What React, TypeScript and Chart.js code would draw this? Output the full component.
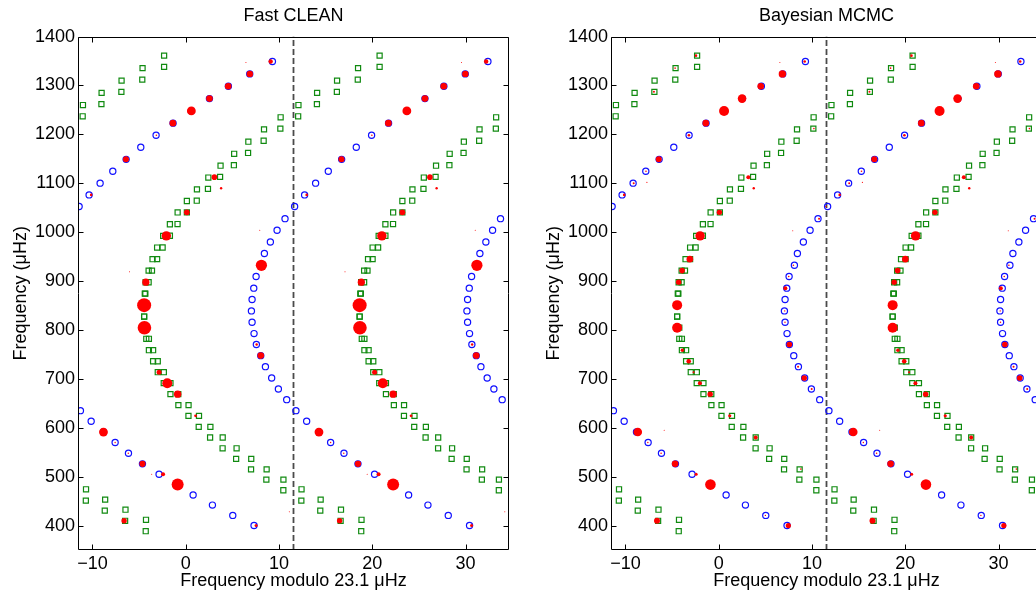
import React, { useEffect, useRef } from "react";
import { Chart, registerables } from "chart.js";

Chart.register(...registerables);

const FONT = "'Liberation Sans', Arial, Helvetica, sans-serif";
const PERIOD = 23.1;
const X_MIN = -11.55;
const X_MAX = 34.65;
const Y_MIN = 350;
const Y_MAX = 1400;
const DASH_X = 11.55;

const xTicks = [-10, 0, 10, 20, 30];
const yTicks = [400, 500, 600, 700, 800, 900, 1000, 1100, 1200, 1300, 1400];

// model radial-like ridge (blue open circles)
const radialX = [7.32, 5.04, 2.86, 0.79, -1.0, -2.86, -4.64, -6.14, -7.57, -8.82, -10.14, -11.29, 10.82, 9.93, 9.21, 8.54, 8.04, 7.57, 7.32, 7.11, 7.04, 7.11, 7.29, 7.54, 8.11, 8.43, 9.07, 9.79, 10.64, -11.43, -10.36, -9.18, -7.82, -6.39, -4.82, -3.18, -1.36, 0.6, 2.54, 4.57, 6.86, 9.29];
const radialY = [400, 420.8, 441.8, 462.6, 483.8, 505, 526.2, 548, 569.8, 591.2, 613.2, 635, 657.5, 679.3, 701.8, 725, 747.5, 770.2, 792.6, 815.8, 839, 862.2, 885.5, 909.5, 932.3, 956.5, 980, 1003.8, 1027.7, 1052.5, 1076.2, 1100.3, 1124.5, 1149, 1173.8, 1198.3, 1223, 1248, 1273.2, 1298.6, 1323.7, 1349];

// model mixed-mode ridge (green open squares)
const dipoleX = [
  -2.32, -2.32, -4.63, -4.66, -6.88, -6.9, -9.02, -9.04, -11.02, -11.05,
  10.17, 10.14, 8.39, 8.35, 6.71, 6.68, 5.19, 5.16, 3.73, 3.68,
  2.42, 2.38, 1.2, 1.18, 0.12, 0.12, -0.87, -0.88, -1.7, -1.7,
  -2.42, -2.48, -3.07, -3.07, -3.56, -3.62, -3.98, -3.98, -4.3, -4.33,
  -4.39, -4.42, -4.46, -4.46, -4.46, -4.4, -4.23, -4.23, -3.95, -3.95,
  -3.5, -3.5, -3.0, -3.0, -2.35, -2.36, -1.64, -1.64, -0.8, -0.79,
  0.3, 0.29, 1.42, 1.39, 2.64, 2.61, 3.96, 3.95, 5.45, 5.4,
  7.02, 7.0, 8.67, 8.64, 10.47, 10.46,
  -10.69, -10.71, -8.64, -8.68, -6.46, -6.5, -4.26, -4.29,
];
const dipoleY = [
  1361, 1338, 1335.5, 1312, 1310, 1287, 1285, 1262, 1260, 1237,
  1235, 1211.8, 1210.3, 1187, 1185, 1162, 1160.3, 1137, 1136, 1113,
  1111.7, 1088.6, 1087.5, 1064.4, 1063.8, 1040.6, 1040.3, 1016.6, 1016.2, 992.7,
  992.5, 968.7, 968.6, 944.8, 944.7, 921.4, 921.4, 897.6, 897.6, 874.3,
  874.3, 851, 851, 827.5, 827.5, 805, 805, 782, 782, 758.6,
  758.6, 736, 736, 713.6, 713.6, 691.2, 691.2, 668.7, 668.7, 646.3,
  646.3, 624.3, 624.3, 601.8, 601.8, 580.1, 580.1, 558, 558, 536.4,
  536.4, 515, 515, 494, 494, 472.2,
  474.2, 451, 453, 430.5, 432.4, 409.7, 411.8, 388.4,
];

// observed peaks, Fast CLEAN (red dots, amplitude in arbitrary units)
const cleanX = [-10.14, -6.41, -3.15, -1.38, 0.6, 2.54, 4.55, 6.87, 9.1, 6.45, 3.07, 3.79, 0.12, -2.08, -6.03, -4.28, -4.46, -4.43, 8.11, 7.6, 8.04, -2.86, -1.98, -0.87, 1.05, -8.82, -7.57, -6.16, -4.64, -2.43, -3.65, -0.87, -6.61, 7.54, 11.1, 7.93];
const cleanY = [1076.2, 1149, 1198.3, 1223, 1248, 1273.2, 1298.6, 1323.7, 1349, 1347, 1112.5, 1090, 1040.6, 992.5, 919, 897.8, 850.8, 804.5, 932.3, 770.2, 747.6, 713.6, 691.2, 668.7, 624.5, 591.2, 569.8, 548, 526.2, 505, 505, 483.8, 409.7, 400, 428, 1004];
const cleanAmp = [1.3, 3.0, 0.8, 3.3, 4.4, 3.3, 3.3, 3.2, 2.2, 0.5, 2.8, 1.2, 2.9, 4.7, 0.5, 3.6, 7.0, 6.8, 5.6, 1.2, 3.3, 2.5, 5.0, 3.7, 1.4, 4.4, 0.7, 0.7, 3.1, 2.0, 0.5, 6.0, 2.7, 1.5, 0.5, 0.5];

// observed peaks, Bayesian MCMC
const mcmcX = [-10.14, -9.12, -7.7, -7.8, -6.43, -3.2, -1.39, 0.57, 2.5, 4.5, 6.82, 9.21, 6.55, -2.44, -4.68, -6.95, 10.2, 3.17, 3.75, 11.5, 0.07, -2.0, -3.1, -3.93, -4.3, -4.46, -4.46, -3.9, -3.22, -2.7, -2.02, -0.92, 1.18, 3.96, 8.8, -8.68, -5.85, -7.6, -6.18, -4.68, -2.42, -0.89, 5.0, 7.46, -6.62, 10.75, 7.93, 8.0, 7.5, 7.14, 7.07, 7.1, 7.57, 8.5, 9.16, 9.96];
const mcmcY = [1076.2, 1100.3, 1102, 1124.5, 1149, 1198.3, 1223, 1248, 1273.2, 1298.6, 1323.7, 1349, 1347, 1361, 1335.5, 1287, 1211.8, 1112.5, 1090, 1052.5, 1040.6, 992.5, 944.8, 921.4, 897.8, 850.8, 804.5, 758.6, 736, 713.6, 691.2, 668.7, 624.5, 580.3, 515.5, 591.2, 595, 569.8, 548, 526.2, 505, 483.8, 420.8, 400, 409.7, 1027.7, 1002.7, 932.3, 909.5, 885.5, 839, 815.8, 770.2, 725, 701.8, 679.3];
const mcmcAmp = [1.3, 1.0, 0.6, 0.8, 3.0, 1.3, 3.3, 5.0, 4.3, 3.3, 3.7, 1.3, 0.5, 1.3, 0.8, 1.0, 0.8, 2.0, 1.2, 0.8, 2.7, 4.7, 3.3, 2.8, 2.7, 5.0, 5.0, 1.7, 2.3, 1.0, 2.0, 2.7, 1.6, 2.0, 0.8, 4.3, 0.5, 0.7, 0.8, 3.3, 1.5, 5.3, 0.7, 2.6, 3.0, 1.0, 0.5, 0.8, 0.8, 2.0, 0.7, 0.7, 2.8, 1.0, 2.8, 1.0];

type Pt = { x: number; y: number; a: number };

function echelle(xs: number[], ys: number[], amps?: number[]): Pt[] {
  const out: Pt[] = [];
  xs.forEach((x, i) => {
    const a = amps ? amps[i] : 0;
    out.push({ x, y: ys[i], a });
    out.push({ x: x + PERIOD, y: ys[i], a });
  });
  return out;
}

const fmt = (v: number) => (v < 0 ? "\u2212" + Math.abs(v) : String(v));

const boxPlugin = {
  id: "boxTicks",
  afterDatasetsDraw(chart: any) {
    const { ctx, chartArea } = chart;
    const { left, right, top, bottom } = chartArea;
    const xs = chart.scales.x;
    const ys = chart.scales.y;
    const L = Math.round(left) + 0.5;
    const R = Math.round(right) - 0.5;
    const T = Math.round(top) + 0.5;
    const B = Math.round(bottom) - 0.5;
    const tl = 5;
    ctx.save();
    ctx.strokeStyle = "#000";
    ctx.lineWidth = 1;
    ctx.beginPath();
    ctx.rect(L, T, R - L, B - T);
    xTicks.forEach((v) => {
      const px = Math.round(xs.getPixelForValue(v)) + 0.5;
      ctx.moveTo(px, B);
      ctx.lineTo(px, B - tl);
      ctx.moveTo(px, T);
      ctx.lineTo(px, T + tl);
    });
    yTicks.forEach((v) => {
      const py = Math.round(ys.getPixelForValue(v)) + 0.5;
      ctx.moveTo(L, py);
      ctx.lineTo(L + tl, py);
      ctx.moveTo(R, py);
      ctx.lineTo(R - tl, py);
    });
    ctx.stroke();
    ctx.restore();
  },
};

const noPad = (s: any) => {
  s.paddingLeft = 0;
  s.paddingRight = 0;
  s.paddingTop = 0;
  s.paddingBottom = 0;
};

function makeConfig(title: string, rx: number[], ry: number[], ra: number[]): any {
  return {
    type: "scatter",
    data: {
      datasets: [
        {
          label: "observed",
          data: echelle(rx, ry, ra),
          pointStyle: "circle",
          pointRadius: (c: any) => (c.raw ? c.raw.a : 0),
          pointBackgroundColor: "#ff0000",
          pointBorderWidth: 0,
          order: 0,
        },
        {
          label: "mixed",
          data: echelle(dipoleX, dipoleY),
          pointStyle: "rect",
          pointRadius: 3.6,
          pointBorderColor: "#108a10",
          pointBackgroundColor: "rgba(0,0,0,0)",
          pointBorderWidth: 1.2,
          order: 1,
        },
        {
          label: "radial",
          data: echelle(radialX, radialY),
          pointStyle: "circle",
          pointRadius: 3.1,
          pointBorderColor: "#1010ff",
          pointBackgroundColor: "rgba(0,0,0,0)",
          pointBorderWidth: 1.2,
          order: 2,
        },
        {
          label: "half",
          data: [
            { x: DASH_X, y: Y_MIN },
            { x: DASH_X, y: Y_MAX },
          ],
          showLine: true,
          borderColor: "#4a4a4a",
          borderDash: [6, 3],
          borderWidth: 1.8,
          pointRadius: 0,
          order: 3,
        },
      ],
    },
    options: {
      animation: false,
      responsive: false,
      maintainAspectRatio: false,
      events: [],
      layout: { autoPadding: false, padding: { left: 0, right: 1, top: 0, bottom: 0 } },
      plugins: {
        legend: { display: false },
        tooltip: { enabled: false },
        title: { display: false },
      },
      scales: {
        x: {
          type: "linear",
          min: X_MIN,
          max: X_MAX,
          afterBuildTicks: (s: any) => {
            s.ticks = xTicks.map((v) => ({ value: v }));
          },
          afterFit: (s: any) => {
            s.height = 45;
            noPad(s);
          },
          grid: { display: false, drawTicks: false },
          border: { display: false },
          ticks: {
            color: "#000",
            padding: 3,
            maxRotation: 0,
            autoSkip: false,
            includeBounds: false,
            font: { size: 18, family: FONT },
            callback: (v: any) => fmt(Number(v)),
          },
          title: {
            display: true,
            text: "Frequency modulo 23.1 \u03bcHz",
            color: "#000",
            font: { size: 18, family: FONT },
            padding: { top: 0, bottom: 3 },
          },
        },
        top: {
          type: "linear",
          position: "top",
          min: X_MIN,
          max: X_MAX,
          afterBuildTicks: (s: any) => {
            s.ticks = [];
          },
          afterFit: (s: any) => {
            s.height = 36.6;
            noPad(s);
          },
          grid: { display: false, drawTicks: false },
          border: { display: false },
          ticks: { display: false },
          title: {
            display: true,
            text: title,
            color: "#000",
            font: { size: 18, family: FONT, weight: "normal" },
            padding: { top: 5, bottom: 0 },
          },
        },
        y: {
          type: "linear",
          min: Y_MIN,
          max: Y_MAX,
          afterBuildTicks: (s: any) => {
            s.ticks = yTicks.map((v) => ({ value: v }));
          },
          afterFit: (s: any) => {
            s.width = 78;
            noPad(s);
          },
          grid: { display: false, drawTicks: false },
          border: { display: false },
          ticks: {
            color: "#000",
            padding: 3,
            autoSkip: false,
            includeBounds: false,
            font: { size: 18, family: FONT },
            callback: (v: any) => fmt(Number(v)),
          },
          title: {
            display: true,
            text: "Frequency (\u03bcHz)",
            color: "#000",
            font: { size: 18, family: FONT },
            padding: { top: 10, bottom: 0 },
          },
        },
      },
    },
    plugins: [boxPlugin],
  };
}

function Panel(props: { title: string; rx: number[]; ry: number[]; ra: number[]; left: number }) {
  const ref = useRef<HTMLCanvasElement | null>(null);
  useEffect(() => {
    if (!ref.current) return;
    const chart = new Chart(ref.current, makeConfig(props.title, props.rx, props.ry, props.ra));
    return () => chart.destroy();
  }, []);
  return (
    <canvas
      ref={ref}
      width={510}
      height={595}
      style={{ position: "absolute", left: props.left, top: 0, width: 510, height: 595 }}
    />
  );
}

export default function App() {
  return (
    <div
      style={{
        position: "fixed",
        left: 0,
        top: 0,
        width: 1036,
        height: 595,
        overflow: "hidden",
        background: "#fff",
      }}
    >
      <Panel title="Fast CLEAN" rx={cleanX} ry={cleanY} ra={cleanAmp} left={0} />
      <Panel title="Bayesian MCMC" rx={mcmcX} ry={mcmcY} ra={mcmcAmp} left={533} />
    </div>
  );
}
